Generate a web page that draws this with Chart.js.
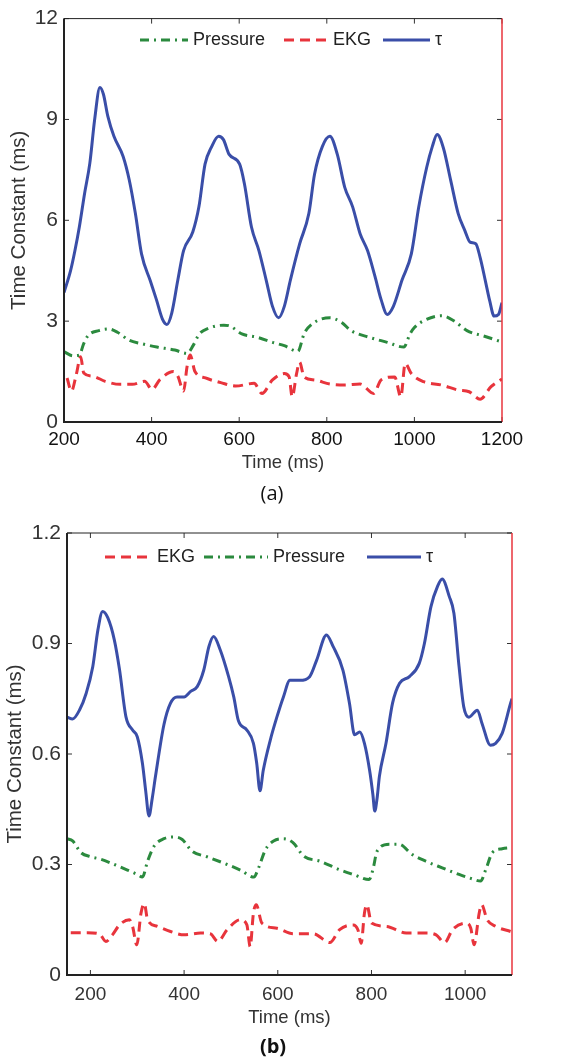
<!DOCTYPE html>
<html>
<head>
<meta charset="utf-8">
<script src="https://cdn.jsdelivr.net/npm/chart.js@4.4.1/dist/chart.umd.min.js"></script>
<style>
  body { margin: 0; background: #fff; }
  #wrap { position: relative; width: 578px; height: 1061px; }
  .box { position: absolute; left: 0; width: 578px; }
</style>
</head>
<body>
<div id="wrap">
  <div class="box" style="top:0;height:510px"><canvas id="chartA"></canvas></div>
  <div class="box" style="top:510px;height:551px"><canvas id="chartB"></canvas></div>
</div>
<script>
// ---- panel (a) ----
const xTicksA = [200, 400, 600, 800, 1000, 1200];
const yTicksA = [0, 3, 6, 9, 12];

const tauA_t = [200,215,225,235,247,259,270,282,290,300,314,335,349,363,377,397,411,425,435,446,460,473,494,508,522,536,553,564,577,601,612,628,645,662,676,690,703,717,738,759,772,790,807,824,841,859,876,893,910,924,938,952,972,993,1010,1028,1041,1052,1066,1083,1100,1115,1127,1140,1150,1162,1172,1182,1192,1200];
const tauA_v = [3.85,4.5,5.1,5.8,6.8,7.7,9.0,9.95,9.75,9.1,8.5,7.9,7.2,6.2,5.0,4.2,3.64,3.05,2.9,3.24,4.23,5.1,5.65,6.4,7.67,8.16,8.5,8.4,7.96,7.67,7.08,5.8,5.1,4.2,3.44,3.1,3.44,4.23,5.3,6.2,7.37,8.2,8.5,7.96,6.98,6.4,5.6,5.1,4.33,3.64,3.2,3.44,4.23,5.0,6.4,7.57,8.2,8.55,8.16,7.18,6.2,5.7,5.35,5.3,4.9,4.2,3.6,3.15,3.2,3.55];

const pressA_t = [200,221,235,245,255,280,301,322,349,377,412,453,481,495,509,530,565,578,606,641,676,703,734,748,766,807,834,855,897,938,976,990,1000,1021,1062,1090,1120,1160,1200];
const pressA_v = [2.09,1.97,1.99,2.33,2.57,2.72,2.77,2.67,2.43,2.33,2.23,2.14,2.04,2.28,2.62,2.79,2.88,2.86,2.62,2.52,2.37,2.27,2.1,2.62,2.91,3.1,2.96,2.72,2.52,2.37,2.23,2.62,2.81,3.01,3.16,3.01,2.72,2.55,2.38];

const ekgA_t = [207,217,228,238,245,266,294,328,356,384,401,419,450,460,473,481,488,499,523,558,592,634,652,676,703,714,721,731,738,748,772,807,841,876,907,924,955,969,979,993,1021,1062,1100,1125,1150,1175,1200];
const ekgA_v = [1.31,0.92,1.41,1.94,1.46,1.36,1.21,1.12,1.12,1.21,0.97,1.26,1.5,1.36,0.92,1.65,1.99,1.5,1.31,1.17,1.07,1.15,0.85,1.25,1.44,1.34,0.75,1.44,1.78,1.34,1.25,1.13,1.1,1.13,0.85,1.25,1.34,0.75,1.74,1.44,1.2,1.1,0.95,0.9,0.68,1.05,1.28];

// ---- panel (b) ----
const xTicksB = [200, 400, 600, 800, 1000];
const yTicksB = [0, 0.3, 0.6, 0.9, 1.2];

const tauB_t = [150,162,177,191,205,216,226,237,251,262,276,290,300,311,318,325,332,339,357,371,385,400,414,428,442,453,463,477,495,506,516,534,548,555,562,569,584,598,612,626,647,668,683,704,718,739,753,764,775,785,796,803,807,812,817,831,845,860,881,902,913,927,941,951,966,976,987,997,1008,1026,1036,1054,1065,1079,1097,1100];
const tauB_v = [0.70,0.695,0.72,0.765,0.837,0.937,0.987,0.97,0.91,0.83,0.70,0.665,0.647,0.575,0.50,0.432,0.48,0.54,0.68,0.738,0.755,0.755,0.77,0.783,0.828,0.892,0.919,0.883,0.81,0.755,0.69,0.665,0.629,0.575,0.50,0.556,0.638,0.70,0.755,0.80,0.80,0.81,0.855,0.923,0.892,0.828,0.738,0.652,0.66,0.629,0.556,0.49,0.445,0.48,0.54,0.629,0.738,0.792,0.81,0.846,0.9,1.0,1.055,1.075,1.028,0.982,0.837,0.728,0.7,0.719,0.683,0.624,0.629,0.656,0.738,0.75];

const pressB_t = [150,162,180,201,223,251,279,300,311,322,336,357,378,396,417,449,492,520,549,559,574,591,612,633,655,690,732,761,795,803,812,838,859,887,916,951,987,1015,1033,1044,1058,1079,1100];
const pressB_v = [0.37,0.364,0.332,0.321,0.314,0.30,0.285,0.273,0.266,0.309,0.35,0.37,0.375,0.368,0.336,0.321,0.30,0.285,0.266,0.291,0.341,0.364,0.37,0.359,0.323,0.309,0.286,0.273,0.259,0.286,0.336,0.355,0.355,0.327,0.309,0.291,0.273,0.261,0.255,0.286,0.332,0.343,0.346];

const ekgB_t = [158,194,219,233,247,262,283,290,299,308,315,322,343,371,400,435,456,472,492,520,534,541,548,554,566,598,633,676,711,732,761,771,778,785,790,800,832,874,917,938,956,973,1002,1012,1019,1030,1035,1047,1065,1097];
const ekgB_v = [0.115,0.115,0.112,0.091,0.109,0.136,0.15,0.132,0.082,0.168,0.194,0.15,0.132,0.118,0.109,0.114,0.112,0.091,0.123,0.15,0.136,0.077,0.168,0.191,0.141,0.127,0.112,0.112,0.088,0.123,0.136,0.123,0.086,0.168,0.191,0.141,0.132,0.114,0.114,0.109,0.088,0.123,0.141,0.127,0.082,0.168,0.191,0.15,0.132,0.118];

const BLUE = '#3a4ea8', GREEN = '#2b8a3e', RED = '#e8343c';
const FONT = '"Liberation Sans", Arial, sans-serif';
Chart.defaults.font.family = FONT;

function pairs(xs, ys) {
  return xs.map((x, i) => ({ x: x, y: ys[i] }));
}

function series(label, xs, ys, color, dash) {
  return {
    label: label,
    data: pairs(xs, ys),
    borderColor: color,
    borderWidth: 3,
    borderDash: dash,
    pointRadius: 0,
    fill: false,
    cubicInterpolationMode: 'monotone'
  };
}

// box, inward ticks and panel label
const framePlugin = {
  id: 'frame',
  afterDatasetsDraw(chart, args, opts) {
    const { ctx, chartArea: a, scales: { x, y } } = chart;
    ctx.save();
    function seg(x1, y1, x2, y2) { ctx.beginPath(); ctx.moveTo(x1, y1); ctx.lineTo(x2, y2); ctx.stroke(); }
    ctx.strokeStyle = '#333';
    ctx.lineWidth = 1;
    x.ticks.forEach(t => {
      const px = x.getPixelForValue(t.value);
      seg(px, a.bottom, px, a.bottom - 5);
      seg(px, a.top, px, a.top + 5);
    });
    y.ticks.forEach(t => {
      const py = y.getPixelForValue(t.value);
      seg(a.left, py, a.left + 5, py);
      seg(a.right, py, a.right - 5, py);
    });
    ctx.strokeStyle = '#222';
    seg(a.left, a.top, a.right, a.top);
    ctx.strokeStyle = RED;
    ctx.lineWidth = 1.5;
    seg(a.right, a.top, a.right, a.bottom);
    ctx.strokeStyle = '#222';
    ctx.lineWidth = 2;
    seg(a.left, a.top, a.left, a.bottom + 1);
    seg(a.left - 1, a.bottom, a.right, a.bottom);
    ctx.fillStyle = '#111';
    ctx.font = opts.font;
    ctx.textAlign = 'center';
    ctx.textBaseline = 'middle';
    ctx.fillText(opts.label, opts.x, opts.y);
    ctx.restore();
  }
};

// legend drawn inside the plot box, like the original
const inLegend = {
  id: 'inLegend',
  afterDraw(chart, args, opts) {
    const ctx = chart.ctx;
    ctx.save();
    ctx.font = '18px ' + FONT;
    ctx.textBaseline = 'middle';
    opts.items.forEach(it => {
      const ds = chart.data.datasets[it.index];
      ctx.strokeStyle = ds.borderColor;
      ctx.lineWidth = ds.borderWidth;
      ctx.setLineDash(ds.borderDash || []);
      ctx.beginPath();
      ctx.moveTo(it.x, opts.y);
      ctx.lineTo(it.x + it.len, opts.y);
      ctx.stroke();
      ctx.setLineDash([]);
      ctx.fillStyle = '#222';
      ctx.fillText(ds.label, it.x + it.len + 5, opts.y);
    });
    ctx.restore();
  }
};

const fmt = v => String(Math.round(v * 10) / 10);

function makeChart(id, cfg) {
  return new Chart(document.getElementById(id), {
    type: 'line',
    data: { datasets: cfg.datasets },
    options: {
      responsive: true,
      maintainAspectRatio: false,
      animation: false,
      layout: { padding: cfg.padding },
      plugins: {
        legend: { display: false },
        tooltip: { enabled: false },
        frame: cfg.frame,
        inLegend: cfg.legend
      },
      scales: {
        x: {
          type: 'linear',
          min: cfg.xMin, max: cfg.xMax,
          afterBuildTicks: s => { s.ticks = cfg.xTicks.map(v => ({ value: v })); },
          afterFit: s => { s.height = 60; },
          grid: { display: false, drawTicks: false },
          border: { display: false },
          ticks: { padding: cfg.xPad, color: cfg.xColor, font: { size: 19 }, maxRotation: 0, autoSkip: false, callback: v => String(v) },
          title: { display: true, text: 'Time (ms)', color: '#333', font: { size: 18.5 }, padding: { top: 0, bottom: cfg.xTitlePad } }
        },
        y: {
          min: cfg.yMin, max: cfg.yMax,
          afterBuildTicks: s => { s.ticks = cfg.yTicks.map(v => ({ value: v })); },
          afterFit: s => { s.width = cfg.yWidth; },
          grid: { display: false, drawTicks: false },
          border: { display: false },
          ticks: { padding: 6, color: '#333', font: { size: 21 }, callback: fmt },
          title: { display: true, text: 'Time Constant (ms)', color: '#333', font: { size: 20.5 }, padding: { top: cfg.yTitlePad, bottom: 0 } }
        }
      }
    },
    plugins: [framePlugin, inLegend]
  });
}

makeChart('chartA', {
  datasets: [
    series('Pressure', pressA_t, pressA_v, GREEN, [9, 5, 2, 5]),
    series('EKG', ekgA_t, ekgA_v, RED, [10, 6]),
    series('\u03c4', tauA_t, tauA_v, BLUE, [])
  ],
  padding: { left: 0, right: 76, top: 14, bottom: 28 },
  xMin: 200, xMax: 1200, xTicks: xTicksA,
  yMin: 0, yMax: 12, yTicks: yTicksA,
  yWidth: 64, xPad: 6, xColor: '#111', xTitlePad: 8, yTitlePad: 7,
  frame: { label: '(a)', x: 272, y: 494, font: '20px "Open Sans", sans-serif' },
  legend: { y: 40, items: [ { index: 0, x: 140, len: 48 }, { index: 1, x: 284, len: 44 }, { index: 2, x: 383, len: 47 } ] }
});

makeChart('chartB', {
  datasets: [
    series('EKG', ekgB_t, ekgB_v, RED, [10, 6]),
    series('Pressure', pressB_t, pressB_v, GREEN, [9, 5, 2, 5]),
    series('\u03c4', tauB_t, tauB_v, BLUE, [])
  ],
  padding: { left: 0, right: 66, top: 23, bottom: 26 },
  xMin: 150, xMax: 1100, xTicks: xTicksB,
  yMin: 0, yMax: 1.2, yTicks: yTicksB,
  yWidth: 67, xPad: 8, xColor: '#333', xTitlePad: 6, yTitlePad: 3,
  frame: { label: '(b)', x: 273, y: 537, font: 'bold 20px "Open Sans", sans-serif' },
  legend: { y: 47, items: [ { index: 0, x: 105, len: 47 }, { index: 1, x: 204, len: 64 }, { index: 2, x: 367, len: 54 } ] }
});
</script>
</body>
</html>
